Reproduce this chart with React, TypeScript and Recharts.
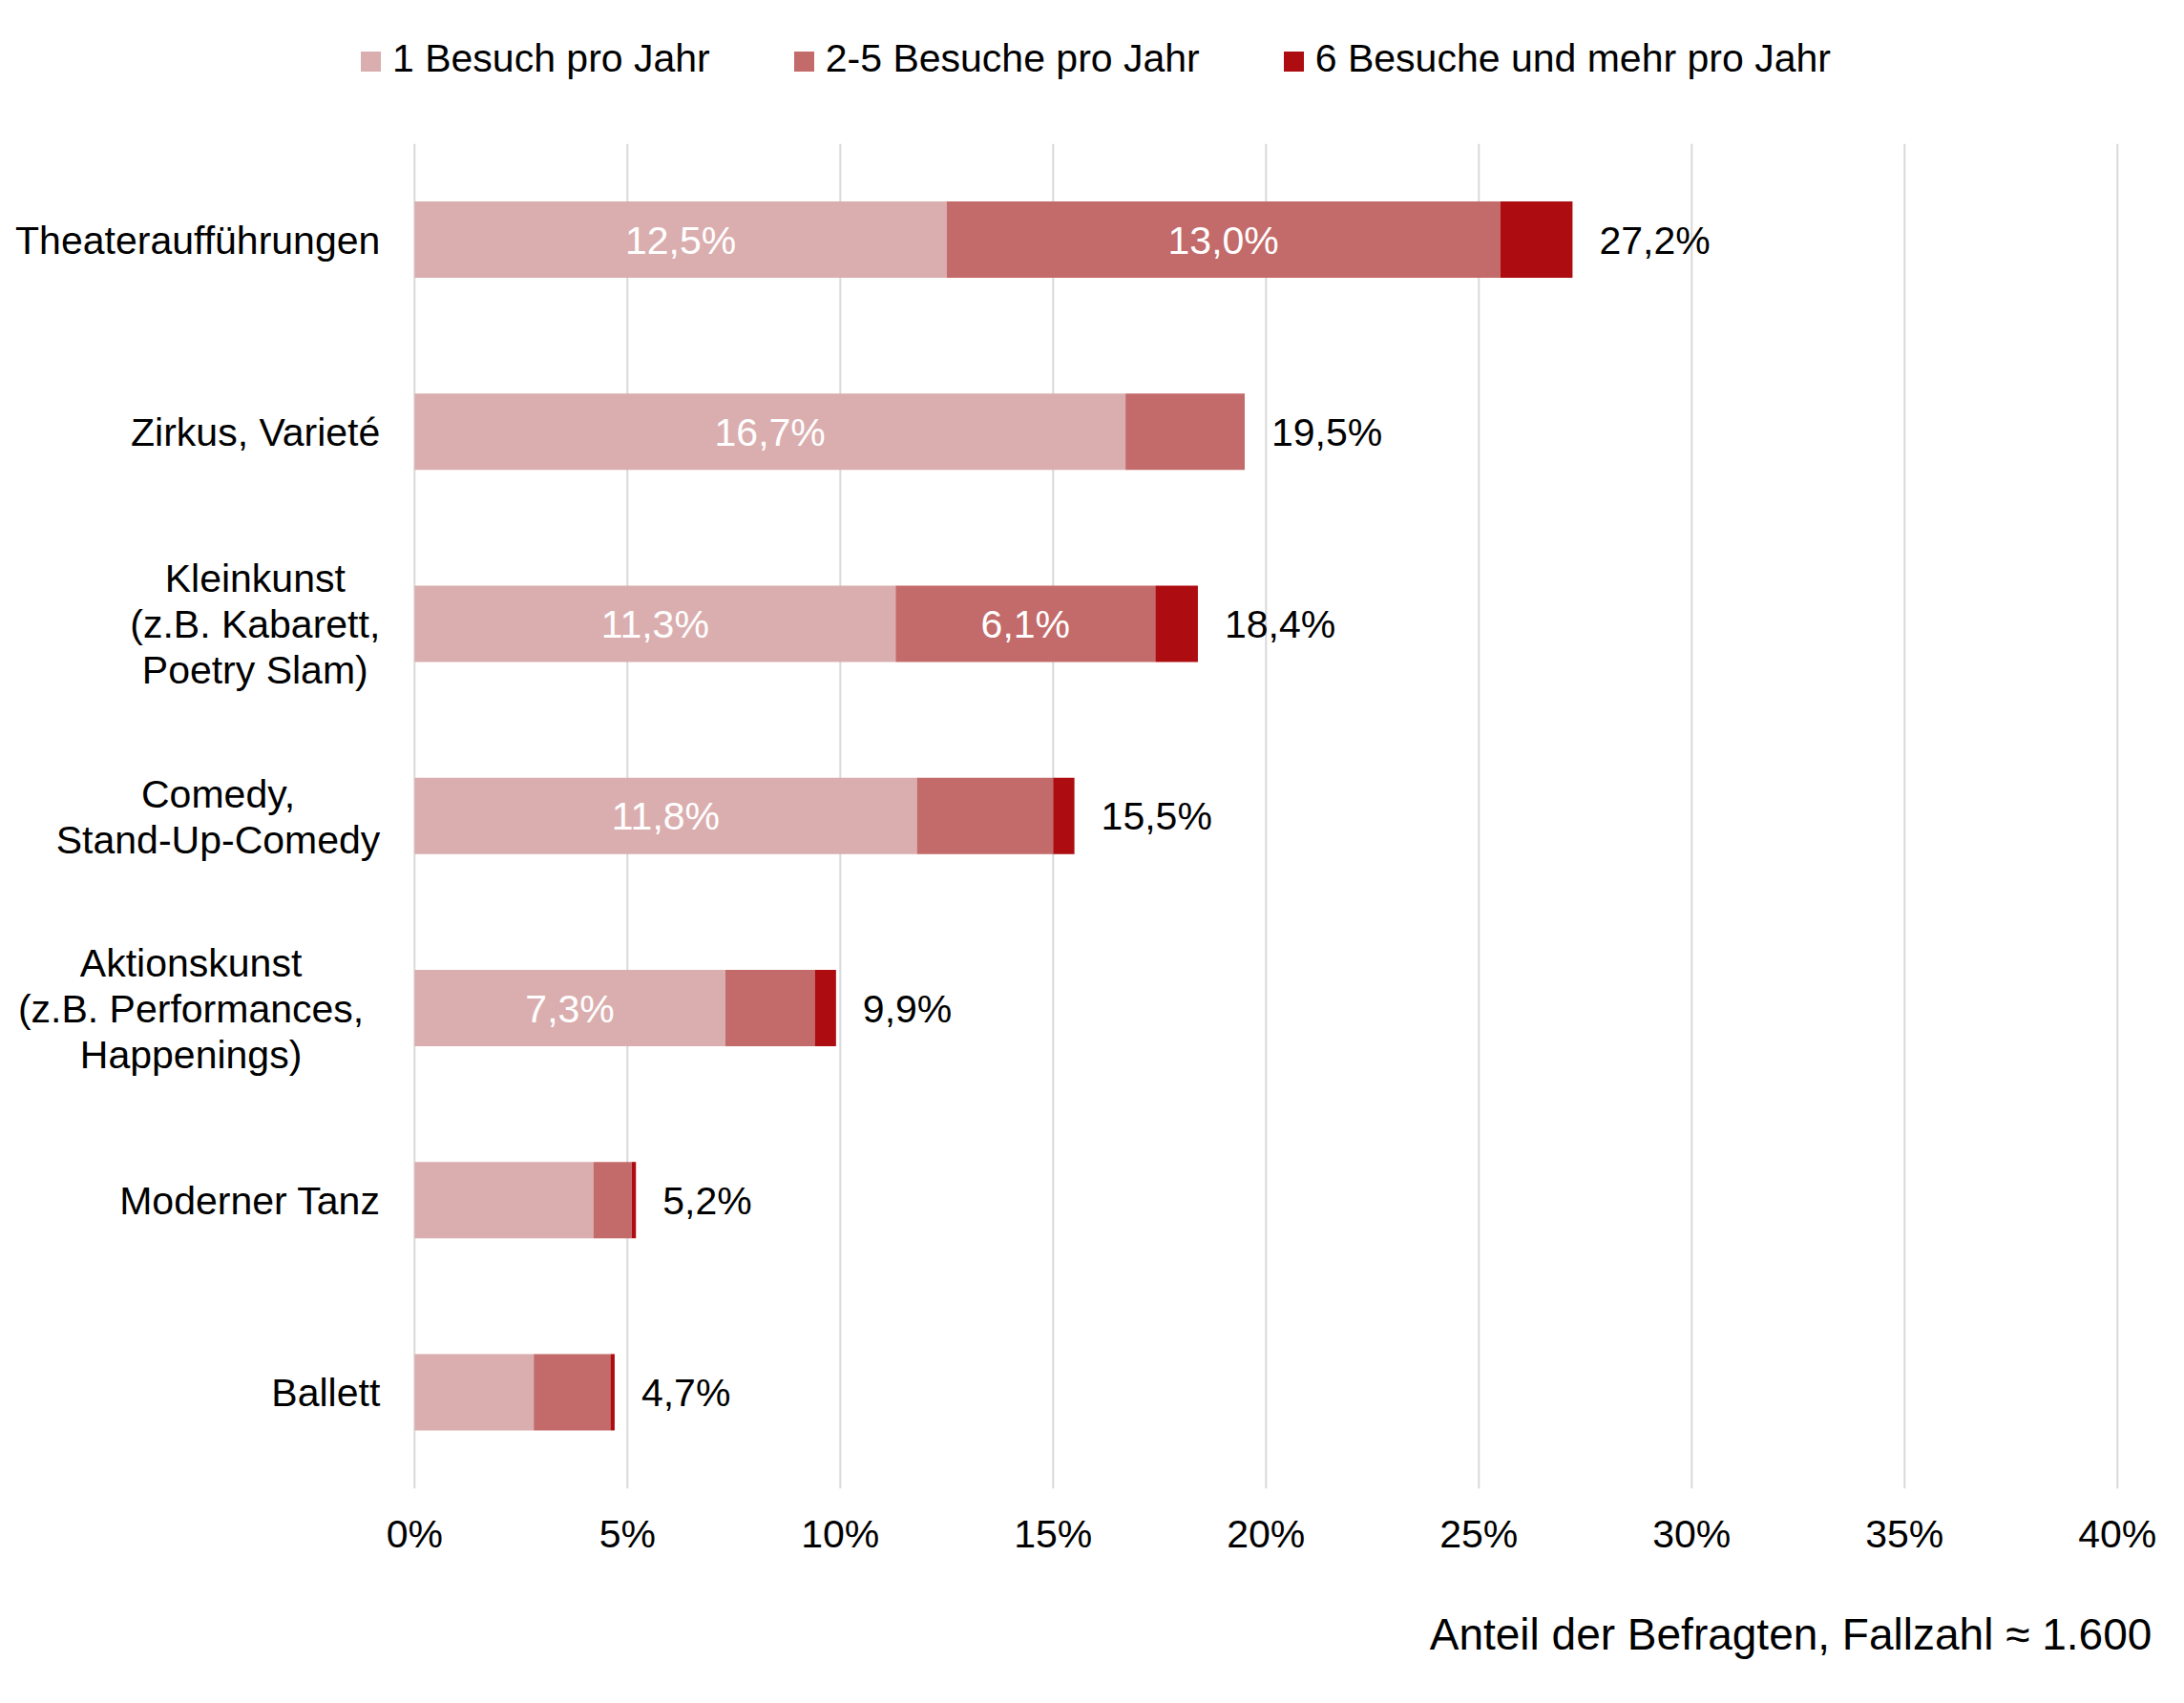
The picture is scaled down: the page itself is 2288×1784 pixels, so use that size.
import React from 'react';
import { BarChart, Bar, XAxis, YAxis, CartesianGrid, Legend, LabelList } from 'recharts';

const categoryLines: string[][] = [
  ['Theateraufführungen'],
  ['Zirkus, Varieté'],
  ['Kleinkunst', '(z.B. Kabarett,', 'Poetry Slam)'],
  ['Comedy,', 'Stand-Up-Comedy'],
  ['Aktionskunst', '(z.B. Performances,   ', 'Happenings)'],
  ['Moderner Tanz'],
  ['Ballett'],
];
const einBesuch = [12.5, 16.7, 11.3, 11.8, 7.3, 4.2, 2.8];
const zweiBisFuenf = [13.0, 2.8, 6.1, 3.2, 2.1, 0.9, 1.8];
const sechsUndMehr = [1.7, 0.0, 1.0, 0.5, 0.5, 0.1, 0.1];
const totals = [27.2, 19.5, 18.4, 15.5, 9.9, 5.2, 4.7];
const xTicks = [0, 5, 10, 15, 20, 25, 30, 35, 40];
const seriesNames = ['1 Besuch pro Jahr', '2-5 Besuche pro Jahr', '6 Besuche und mehr pro Jahr'];
const seriesColors = ['#DAAEAF', '#C36A6A', '#AD0D10'];
const axisTitle = 'Anteil der Befragten, Fallzahl ≈ 1.600';

const data = categoryLines.map((lines, i) => ({
  name: lines.join('\n'),
  s1: einBesuch[i],
  s2: zweiBisFuenf[i],
  s3: sechsUndMehr[i],
  total: totals[i],
}));

const FONT = "'Liberation Sans', Arial, sans-serif";
const FS = 41;
const LH = 48;
const CAP = FS * 0.716;

let ctx: CanvasRenderingContext2D | null = null;
function measure(t: string): number {
  if (!ctx) {
    const c = document.createElement('canvas');
    ctx = c.getContext('2d');
  }
  if (!ctx) return t.length * FS * 0.5;
  ctx.font = `${FS}px 'Liberation Sans', Arial, sans-serif`;
  return ctx.measureText(t).width;
}

const fmt = (v: number) => v.toFixed(1).replace('.', ',') + '%';

const YTick = (props: any) => {
  const { x, y, payload } = props;
  const lines: string[] = String(payload.value).split('\n');
  const w = Math.max(...lines.map(measure));
  const cx = x - w / 2;
  const n = lines.length;
  const base0 = y - ((n - 1) * LH) / 2 + CAP / 2;
  return (
    <g>
      {lines.map((l, i) => (
        <text key={i} x={cx} y={base0 + i * LH} textAnchor="middle" fontSize={FS} fill="#000" fontFamily={FONT}>
          {l.trim()}
        </text>
      ))}
    </g>
  );
};

const InsideLabel = (props: any) => {
  const { x, y, width, height, value } = props;
  if (value == null || value < 5) return null;
  return (
    <text
      x={x + width / 2}
      y={y + height / 2 + CAP / 2}
      textAnchor="middle"
      fontSize={FS}
      fill="#FFFFFF"
      fontFamily={FONT}
    >
      {fmt(value)}
    </text>
  );
};

const TotalLabel = (props: any) => {
  const { x, y, width, height, value } = props;
  if (value == null) return null;
  return (
    <text
      x={x + width + 28}
      y={y + height / 2 + CAP / 2}
      textAnchor="start"
      fontSize={FS}
      fill="#000"
      fontFamily={FONT}
    >
      {fmt(Number(value))}
    </text>
  );
};

const LegendContent = () => (
  <div style={{ display: 'flex', alignItems: 'flex-start', paddingLeft: 370, fontFamily: FONT, fontSize: FS }}>
    {seriesNames.map((n, i) => (
      <div key={n} style={{ display: 'flex', alignItems: 'flex-start', marginRight: 88 }}>
        <div style={{ width: 21, height: 21, background: seriesColors[i], marginTop: 16.5, marginRight: 12 }} />
        <span style={{ lineHeight: '48px', color: '#000', whiteSpace: 'nowrap' }}>{n}</span>
      </div>
    ))}
  </div>
);

const TitleLabel = (props: any) => {
  const vb = props.viewBox || {};
  return (
    <text
      x={vb.x + vb.width + 36}
      y={vb.y + 169}
      textAnchor="end"
      fontSize={46}
      fill="#000"
      fontFamily={FONT}
    >
      {axisTitle}
    </text>
  );
};

export default function App() {
  return (
    <div style={{ width: 2272, height: 1776, background: '#fff', fontFamily: FONT }}>
      <BarChart
        width={2272}
        height={1776}
        data={data}
        layout="vertical"
        barCategoryGap="30%"
        margin={{ top: 142.7, right: 61.7, left: 26.3, bottom: 164.7 }}
        style={{ fontFamily: FONT }}
      >
        <CartesianGrid horizontal={false} vertical={true} stroke="#D9D9D9" strokeWidth={2} />
        <XAxis
          type="number"
          domain={[0, 40]}
          ticks={xTicks}
          tickFormatter={(v: number) => `${v}%`}
          axisLine={false}
          tickLine={false}
          tickSize={0}
          tickMargin={33}
          height={60}
          interval={0}
          tick={{ fontSize: FS, fill: '#000', fontFamily: FONT }}
          label={<TitleLabel />}
        />
        <YAxis
          type="category"
          dataKey="name"
          width={400}
          axisLine={false}
          tickLine={false}
          tickSize={0}
          tickMargin={36}
          interval={0}
          tick={<YTick />}
        />
        <YAxis yAxisId="tot" type="category" dataKey="name" hide />
        <Legend
          verticalAlign="middle"
          align="center"
          layout="horizontal"
          wrapperStyle={{ top: 29, left: 0, width: 2272 }}
          content={<LegendContent />}
        />
        <Bar dataKey="s1" name={seriesNames[0]} stackId="a" fill={seriesColors[0]} isAnimationActive={false}>
          <LabelList dataKey="s1" content={<InsideLabel />} />
        </Bar>
        <Bar dataKey="s2" name={seriesNames[1]} stackId="a" fill={seriesColors[1]} isAnimationActive={false}>
          <LabelList dataKey="s2" content={<InsideLabel />} />
        </Bar>
        <Bar dataKey="s3" name={seriesNames[2]} stackId="a" fill={seriesColors[2]} isAnimationActive={false} />
        <Bar
          yAxisId="tot"
          dataKey="total"
          legendType="none"
          fill="none"
          fillOpacity={0}
          isAnimationActive={false}
        >
          <LabelList dataKey="total" content={<TotalLabel />} />
        </Bar>
      </BarChart>
    </div>
  );
}
